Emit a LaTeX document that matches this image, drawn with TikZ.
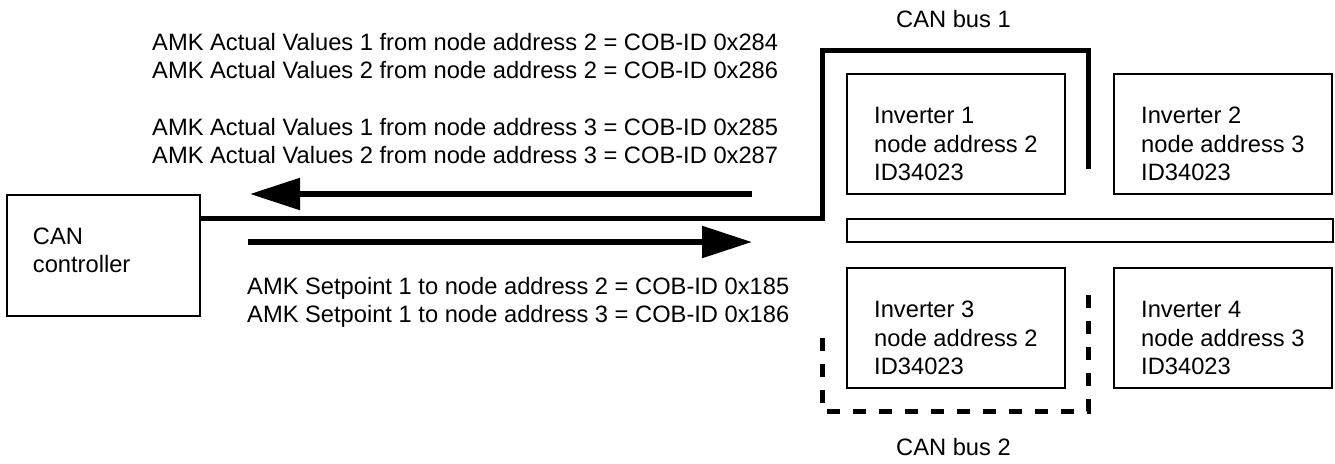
\documentclass[tikz,border=0pt]{standalone}
\usepackage{fontspec}
\setmainfont{Liberation Sans}
\usetikzlibrary{arrows.meta, positioning}

\begin{document}
\begin{tikzpicture}[
			x=1pt, y=-1pt,
			txt/.style={font=\fontsize{23.7}{28}\selectfont, align=left, inner sep=0pt, anchor=north west},
			unit/.style={rectangle, draw=black, line width=1.8pt, minimum width=218pt, minimum height=120pt, align=left, anchor=north west, font=\fontsize{23.7}{28.5}\selectfont, text height=94pt},
			bus/.style={line width=5pt},
			flow/.style={line width=5.5pt, -{Triangle[length=50pt, width=31pt]}}
			]
			\useasboundingbox (0,0) rectangle (1335,463);
			
			% Controller
			\node[unit, minimum width=193pt, minimum height=121pt, inner xsep=26pt, text width=141pt, text height=17pt, text depth=39.5pt] (ctrl) at (6,194) {CAN\\controller};
			
			% Inverters and bar
			\node[unit] (inv1) at (846,73) {Inverter 1\\node address 2\\ID34023};
			\node[unit] (inv2) at (1113,73) {Inverter 2\\node address 3\\ID34023};
			\node[unit] (inv3) at (846,267) {Inverter 3\\node address 2\\ID34023};
			\node[unit] (inv4) at (1113,267) {Inverter 4\\node address 3\\ID34023};
			\node[rectangle, draw=black, line width=1.8pt, minimum width=486pt, minimum height=23pt, inner sep=0pt, anchor=north west] (bar) at (846,218) {};
			
			% Bus lines
			\coordinate (b1a) at (822,50);
			\coordinate (b1b) at (1088,169);
			\coordinate (b2a) at (822,338);
			\coordinate (b2c) at (1088,411);
			\coordinate (b2b) at (1088,291);
			\draw[bus] (ctrl.east |- bar.north) -| (b1a) -| (b1b);
			\draw[bus, dash pattern=on 13pt off 13pt] (b2a) |- (b2c) -- (b2b);
			\node[txt] (bus1) at (896,10) {CAN bus 1};
			\node[txt] (bus2) at (896,438) {CAN bus 2};
			
			% Arrows
			\coordinate (rxtail) at (752,194);
			\coordinate (rxtip) at (250,194);
			\coordinate (txtail) at (248,242);
			\coordinate (txtip) at (752,242);
			\draw[flow] (rxtail) -- (rxtip);
			\draw[flow] (txtail) -- (txtip);
			
			% Labels
			\node[txt] (rx1) at (152,33) {AMK Actual Values 1 from node address 2 = COB-ID 0x284\\AMK Actual Values 2 from node address 2 = COB-ID 0x286};
			\node[txt] (rx2) at (152,118) {AMK Actual Values 1 from node address 3 = COB-ID 0x285\\AMK Actual Values 2 from node address 3 = COB-ID 0x287};
			\node[txt] (tx) at (247,277) {AMK Setpoint 1 to node address 2 = COB-ID 0x185\\AMK Setpoint 1 to node address 3 = COB-ID 0x186};
			
		\end{tikzpicture}
\end{document}
